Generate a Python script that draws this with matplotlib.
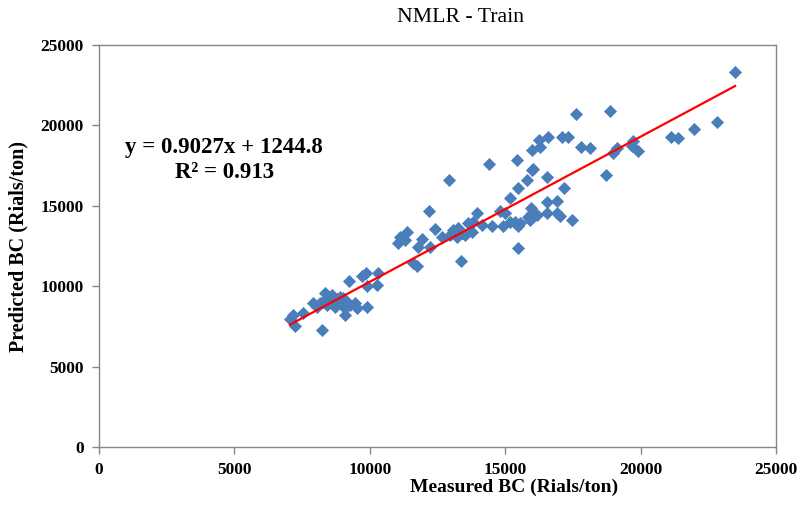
import matplotlib
matplotlib.use("Agg")
import matplotlib.pyplot as plt
import numpy as np

measured = [7150, 7050, 7240, 7540, 7910, 8040, 8250,
            8350, 8470, 8590, 8280, 8410, 8780, 8900, 9020, 9150, 8960, 9080, 9270, 9450, 9510, 9080, 8710, 8530, 8160,
            9230, 9860, 9700, 10310, 9880, 10280, 9910,
            11050, 11300, 11120, 11360, 11790, 11610, 11730,
            11920, 12220, 12190, 12410, 12650, 12920,
            13080, 13270, 13390, 12960, 13210, 13520, 13760, 13640, 13800, 13360, 13970,
            14130, 14500, 14410, 14810, 14930, 15180, 15360, 15550, 15480, 15460,
            14990, 15180, 15480, 15790, 15980, 15450, 15980, 16040,
            15850, 15980, 16160, 16530, 15940, 15920, 16920, 17020, 17470,
            16530, 16910, 16530, 17180,
            16260, 16300, 16570, 17100, 17320, 17610, 17810, 18130,
            18870, 18730, 18990, 19120, 19690, 19730, 19890,
            21110, 21380, 21980, 22830, 23490]
predicted = [8210, 7940, 7520, 8350, 8940, 8730, 7280,
             9560, 9350, 9450, 9040, 8830, 9180, 9350, 9250, 9040, 8830, 8620, 8830, 8940, 8620, 8210, 8730, 9140, 8940,
             10340, 10800, 10630, 10840, 10010, 10070, 8730,
             12700, 12870, 13080, 13390, 12460, 11420, 11260,
             12920, 12460, 14700, 13540, 13040, 16580,
             13500, 13600, 13290, 13180, 13040, 13180, 13390, 13910, 14010, 11570, 14530,
             13800, 13740, 17580, 14680, 13740, 14000, 14000, 13900, 13740, 12390,
             14530, 15500, 16130, 16600, 17230, 17850, 18470, 17290,
             14320, 14530, 14430, 14530, 14840, 14120, 14570, 14380, 14120,
             15260, 15300, 16810, 16130,
             19090, 18640, 19260, 19260, 19260, 20690, 18640, 18580,
             20880, 16920, 18260, 18610, 18740, 19050, 18430,
             19260, 19200, 19760, 20190, 23320]

slope = 0.9027
intercept = 1244.8
x_ticks = [0, 5000, 10000, 15000, 20000, 25000]
y_ticks = [0, 5000, 10000, 15000, 20000, 25000]

serif = ["Liberation Serif", "DejaVu Serif"]
plt.rcParams["font.family"] = serif

fig = plt.figure(figsize=(8.01, 5.25), dpi=100)
W, H = 801, 525
ax = fig.add_axes([99 / W, 1 - 447 / H, (776 - 99) / W, (447 - 45) / H])

ax.scatter(measured, predicted, marker="D", s=38, color="#4A7EBB", edgecolors="#4A7EBB",
           linewidths=0.5, zorder=3)
xs = np.array([min(measured), max(measured)])
ax.plot(xs, slope * xs + intercept, color="#FF0000", lw=1.6, zorder=4)

ax.set_xlim(0, 25000)
ax.set_ylim(0, 25000)
ax.set_xticks(x_ticks)
ax.set_yticks(y_ticks)
ax.set_xticklabels([str(t) for t in x_ticks], fontweight="bold", fontsize=12.5)
ax.set_yticklabels([str(t) for t in y_ticks], fontweight="bold", fontsize=12.5)
for sp in ax.spines.values():
    sp.set_color("#868686")
    sp.set_linewidth(1.0)
ax.tick_params(direction="out", length=5, color="#868686", width=1.0, pad=6)

fig.text(461 / W, 1 - 18 / H, "NMLR - Train", ha="center", va="center", fontsize=15.7)
fig.text(514 / W, 1 - 487 / H, "Measured BC (Rials/ton)", ha="center", va="center",
         fontsize=14, fontweight="bold")
fig.text(18 / W, 1 - 247 / H, "Predicted BC (Rials/ton)", ha="center", va="center",
         fontsize=14.5, fontweight="bold", rotation=90)
fig.text(224 / W, 1 - 148 / H, "y = 0.9027x + 1244.8", ha="center", va="center",
         fontsize=16.5, fontweight="bold")
fig.text(225 / W, 1 - 173 / H, "R² = 0.913", ha="center", va="center",
         fontsize=16.5, fontweight="bold")

fig.savefig("out.png", dpi=100)
